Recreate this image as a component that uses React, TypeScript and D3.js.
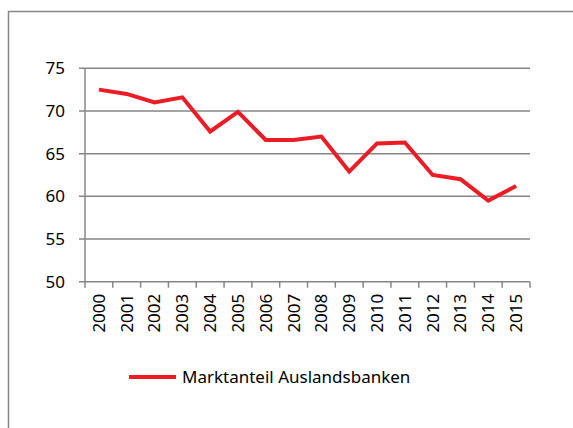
import * as d3 from 'd3';

// Marktanteil Auslandsbanken, 2000–2015 (%)
const years = ['2000', '2001', '2002', '2003', '2004', '2005', '2006', '2007',
  '2008', '2009', '2010', '2011', '2012', '2013', '2014', '2015'];
const share = [72.5, 72.0, 71.0, 71.6, 67.6, 69.9, 66.6, 66.6,
  67.0, 62.9, 66.2, 66.3, 62.5, 62.0, 59.5, 61.2];
const yTicks = [50, 55, 60, 65, 70, 75];
const seriesName = 'Marktanteil Auslandsbanken';

const W = 573;
const H = 428;
const FONT = '"Noto Sans", sans-serif';
const GRID = '#868686';
const RED = '#ed1c24';

export default function App() {
  // ── Plotbereich ───────────────────────────────────────────────────────────
  const left = 85, right = 530, top = 68.3, bottom = 281.7;

  const x = d3.scaleBand<string>().domain(years).range([left, right]);
  const y = d3.scaleLinear().domain([50, 75]).range([bottom, top]);

  const line = d3.line<number>()
    .x((_, i) => (x(years[i]) ?? 0) + x.bandwidth() / 2)
    .y(d => y(d));

  // Tick-Grenzen zwischen den Kategorien
  const xEdges = [...years.map(yr => x(yr) ?? 0), right];

  return (
    <svg width={W} height={H} style={{ position: 'absolute', left: 0, top: 0 }}
      fontFamily={FONT}>
      <rect width={W} height={H} fill="#fff" />
      {/* Rahmen, läuft über den Bildrand hinaus */}
      <rect x={8.5} y={11.5} width={W + 20} height={H + 20}
        fill="none" stroke={GRID} strokeWidth={1.5} />

      {/* Gitterlinien + Y-Achse */}
      {yTicks.map(t => (
        <g key={t}>
          <line x1={left - 6} x2={right} y1={y(t)} y2={y(t)}
            stroke={GRID} strokeWidth={1.5} />
          <text x={65} y={y(t)} dy="0.35em" textAnchor="end"
            fontSize={17} fill="#000">{t}</text>
        </g>
      ))}
      <line x1={left} x2={left} y1={top} y2={bottom} stroke={GRID} strokeWidth={1.5} />

      {/* X-Achse */}
      {xEdges.map((ex, i) => (
        <line key={i} x1={ex} x2={ex} y1={bottom} y2={bottom + 6}
          stroke={GRID} strokeWidth={1.5} />
      ))}
      {years.map(yr => {
        const cx = (x(yr) ?? 0) + x.bandwidth() / 2;
        return (
          <text key={yr} transform={`translate(${cx},${bottom + 12}) rotate(-90)`}
            textAnchor="end" dy="0.35em" fontSize={17} fill="#000">{yr}</text>
        );
      })}

      {/* Datenreihe */}
      <path d={line(share) ?? ''} fill="none" stroke={RED} strokeWidth={4}
        strokeLinejoin="miter" />

      {/* Legende */}
      <line x1={129} x2={176} y1={377} y2={377} stroke={RED} strokeWidth={4} />
      <text x={182} y={377} dy="0.35em" fontSize={17} fill="#000">{seriesName}</text>
    </svg>
  );
}
